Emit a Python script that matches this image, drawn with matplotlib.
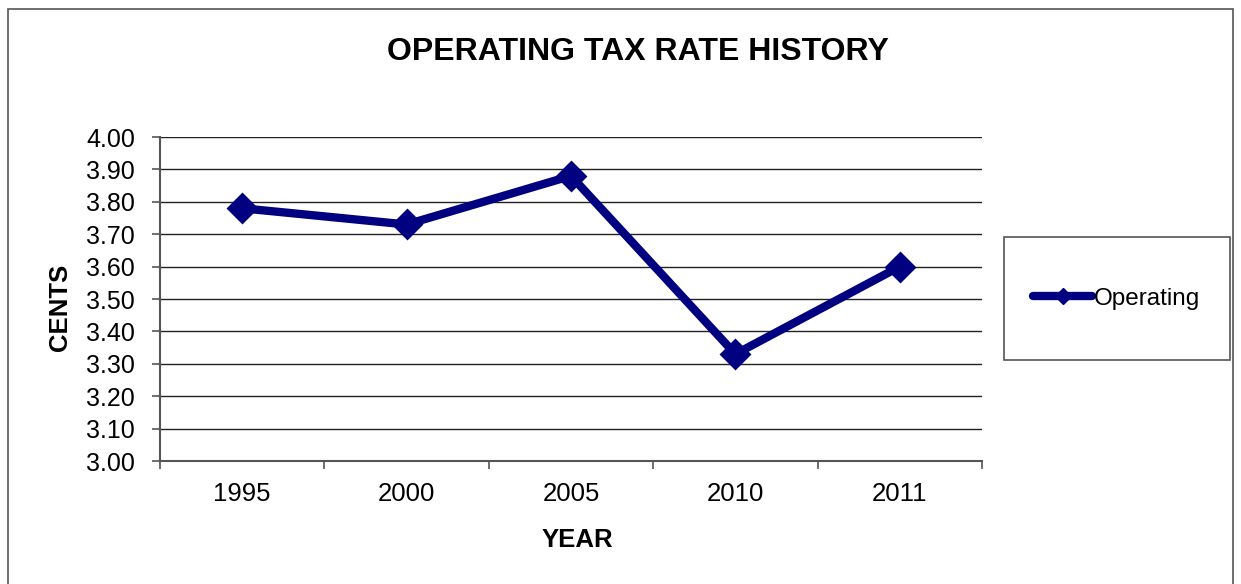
import numpy as np
import matplotlib.pyplot as plt
from matplotlib.patches import Rectangle
from matplotlib.lines import Line2D

plt.rcParams['font.family'] = ['Liberation Sans', 'DejaVu Sans']

years = ['1995', '2000', '2005', '2010', '2011']
operating = [3.78, 3.73, 3.88, 3.33, 3.60]
yticks = np.round(np.arange(3.0, 4.001, 0.1), 2)

navy = '#000080'

fig = plt.figure(figsize=(12.41, 5.84), dpi=100)
# outer chart border (bottom edge cut off by the image)
fig.patches.append(Rectangle((8 / 1241, -0.05), (1233 - 8) / 1241, 1.05 - 9 / 584,
                             transform=fig.transFigure, fill=False,
                             edgecolor='#555555', linewidth=1.2))

ax = fig.add_axes([0.1289, 0.2106, 0.6624, 0.5548])
x = np.arange(len(years))
ax.plot(x, operating, color=navy, linewidth=6, marker='D', markersize=14,
        markeredgewidth=2, markeredgecolor=navy, solid_joinstyle='miter')

ax.set_xlim(-0.5, len(years) - 0.5)
ax.set_ylim(3.0, 4.0)
ax.set_yticks(yticks)
ax.set_yticklabels(['{:.2f}'.format(v) for v in yticks])
ax.set_xticks(x)
ax.set_xticklabels(years)
ax.set_xticks(np.arange(-0.5, len(years), 1.0), minor=True)
ax.tick_params(axis='x', which='major', length=0, pad=15, labelsize=18.5)
ax.tick_params(axis='x', which='minor', length=6, width=1.2, color='#555555')
ax.tick_params(axis='y', length=6, width=1.2, color='#555555', labelsize=18, pad=12)

ax.grid(axis='y', color='#222222', linewidth=1.0)
ax.set_axisbelow(True)
for s in ['top', 'right']:
    ax.spines[s].set_visible(False)
for s in ['left', 'bottom']:
    ax.spines[s].set_color('#555555')
    ax.spines[s].set_linewidth(1.5)

fig.text(577 / 1241, 1 - 540 / 584, 'YEAR', ha='center', va='center',
         fontsize=18.5, fontweight='bold')
fig.text(60 / 1241, 1 - 307 / 584, 'CENTS', ha='center', va='center',
         rotation=90, fontsize=18.5, fontweight='bold')
fig.text(0.514, 0.911, 'OPERATING TAX RATE HISTORY', ha='center', va='center',
         fontsize=23, fontweight='bold')

handle = Line2D([], [], color=navy, linewidth=6, marker='D', markersize=8,
                solid_capstyle='round')
box = (1004 / 1241, 1 - 360 / 584, 226 / 1241, 123 / 584)
leg = fig.legend([handle], ['Operating'], loc='center', bbox_to_anchor=box,
                 frameon=False, fontsize=17.5, handlelength=2.4,
                 handletextpad=0.1, borderaxespad=0)
fig.patches.append(Rectangle(box[:2], box[2], box[3], transform=fig.transFigure,
                             fill=False, edgecolor='#555555', linewidth=1.2))

fig.savefig('out.png', dpi=100)
